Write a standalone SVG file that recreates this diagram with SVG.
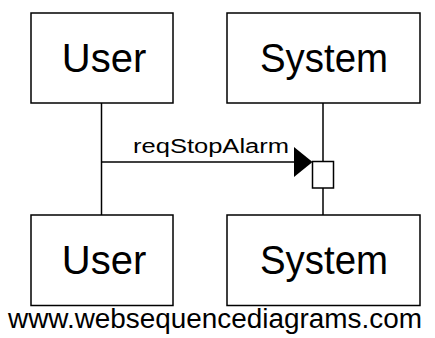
<svg xmlns="http://www.w3.org/2000/svg" width="435" height="338" viewBox="0 0 435 338">
<style>
.box{fill:#fff;stroke:#000;stroke-width:1.5}
.ln{stroke:#000;stroke-width:1.5;fill:none}
.big{font-family:"Liberation Sans",Arial,sans-serif;font-size:40px;fill:#000;text-anchor:middle}
.lbl{font-family:"Liberation Sans",Arial,sans-serif;font-size:20px;fill:#000}
.foot{font-family:"Liberation Sans",Arial,sans-serif;font-size:27px;fill:#000}
</style>
<rect width="435" height="338" fill="#fff"/>
<g id="connectors">
<line class="ln" x1="101.5" y1="103" x2="101.5" y2="215"/>
<line class="ln" x1="323" y1="103" x2="323" y2="161"/>
<line class="ln" x1="323" y1="188" x2="323" y2="215"/>
<line class="ln" x1="101.5" y1="162" x2="296" y2="162"/>
<polygon points="294,147 312.5,162 294,177" fill="#000"/>
<text class="lbl" x="133" y="153" textLength="156" lengthAdjust="spacingAndGlyphs">reqStopAlarm</text>
</g>
<g id="activation">
<rect class="box" x="312.5" y="161.5" width="21" height="26.5"/>
</g>
<g id="user-top">
<rect class="box" x="31" y="13" width="142" height="90"/>
<text class="big" x="104" y="72">User</text>
</g>
<g id="system-top">
<rect class="box" x="227" y="13" width="193" height="90"/>
<text class="big" x="324" y="72" textLength="128" lengthAdjust="spacingAndGlyphs">System</text>
</g>
<g id="user-bottom">
<rect class="box" x="31" y="215" width="142" height="90.5"/>
<text class="big" x="104" y="274">User</text>
</g>
<g id="system-bottom">
<rect class="box" x="227" y="215" width="193" height="90.5"/>
<text class="big" x="324" y="274" textLength="128" lengthAdjust="spacingAndGlyphs">System</text>
</g>
<text class="foot" x="8" y="328" textLength="414" lengthAdjust="spacingAndGlyphs">www.websequencediagrams.com</text>
</svg>
